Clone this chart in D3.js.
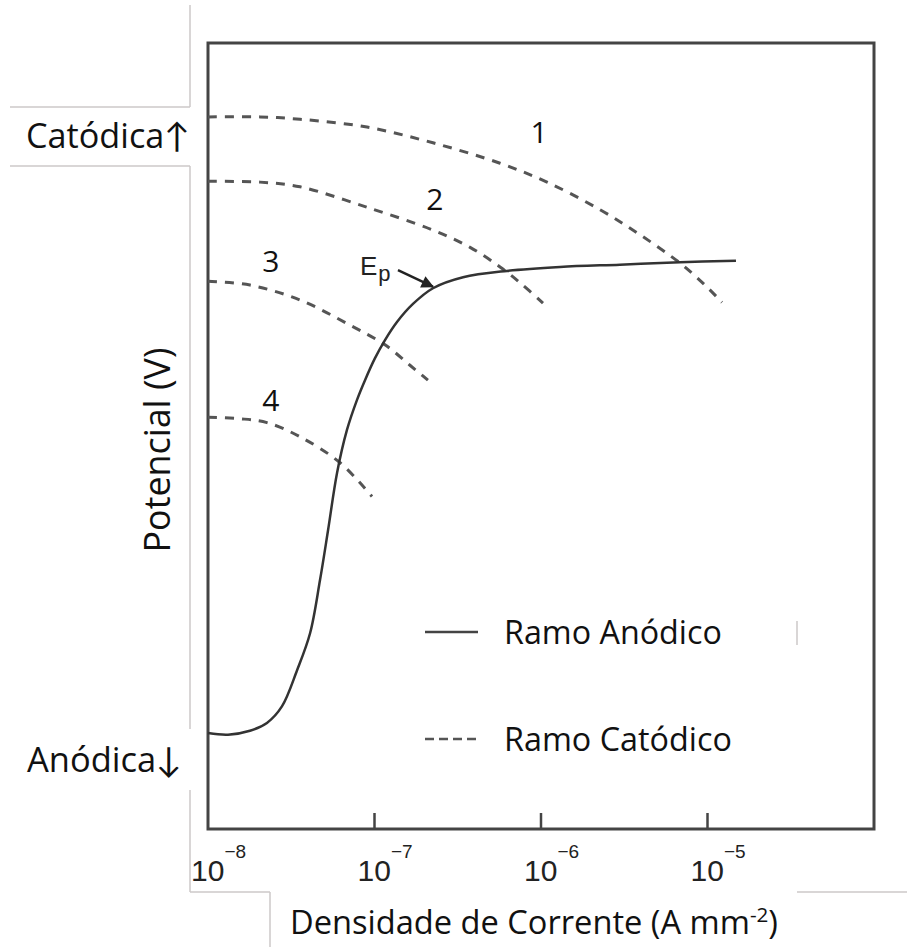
<!DOCTYPE html>
<html>
<head>
<meta charset="utf-8">
<script src="https://cdn.jsdelivr.net/npm/d3@7"></script>
<style>
  html, body { margin: 0; padding: 0; background: #fff; }
  svg { display: block; }
</style>
</head>
<body>
<svg id="chart" width="907" height="947"></svg>
<script>
// ---------- data (x: log10 of current density, y: potential in arbitrary units) ----------
const tickExponents = [-8, -7, -6, -5];

const anodicLogI = [-8.000, -7.880, -7.748, -7.646, -7.556, -7.465, -7.387, -7.327, -7.279, -7.225, -7.165, -7.105, -7.057, -6.997, -6.937, -6.865, -6.769, -6.649, -6.468, -6.204, -5.886, -5.526, -5.165, -4.829];
const anodicE    = [12.2, 12.0, 12.5, 13.5, 15.6, 20.2, 24.9, 31.7, 38.0, 45.3, 50.8, 54.6, 57.1, 59.9, 62.2, 64.5, 66.8, 68.8, 70.2, 71.0, 71.5, 71.8, 72.1, 72.3];

const cath1LogI = [-8.000, -7.688, -7.447, -7.045, -6.649, -6.246, -5.964, -5.646, -5.405, -5.165, -5.015, -4.913];
const cath1E    = [90.6, 90.6, 90.3, 89.3, 87.3, 84.7, 82.3, 78.8, 75.6, 72.0, 69.2, 67.0];

const cath2LogI = [-8.000, -7.688, -7.447, -7.045, -6.649, -6.426, -6.246, -6.126, -5.988];
const cath2E    = [82.4, 82.3, 81.7, 79.1, 76.2, 74.0, 71.5, 69.5, 66.9];

const cath3LogI = [-8.000, -7.748, -7.447, -7.147, -6.937, -6.787, -6.679];
const cath3E    = [69.7, 69.2, 67.3, 64.1, 61.6, 59.0, 57.1];

const cath4LogI = [-8.000, -7.808, -7.646, -7.447, -7.207, -7.015];
const cath4E    = [52.4, 52.2, 51.7, 49.9, 46.6, 42.3];

const cathLabels     = ["1", "2", "3", "4"];
const cathLabelLogI  = [-6.012, -6.637, -7.622, -7.622];
const cathLabelE     = [88.7, 80.2, 72.3, 54.6];

const epLabelLogI = -7.087, epLabelE = 70.5;
const epArrowFrom = [-6.859, 71.1];
const epArrowTo   = [-6.649, 69.0];

const legendLabels = ["Ramo Anódico", "Ramo Catódico"];
const xTitle = "Densidade de Corrente (A mm";
const yTitle = "Potencial (V)";

// ---------- drawing ----------
const svg = d3.select("#chart");
const pL = 208, pR = 874, pT = 43, pB = 829;

const x = d3.scaleLog().domain([1e-8, 1e-4]).range([pL, pR]);
const y = d3.scaleLinear().domain([0, 100]).range([pB, pT]);

const calibri = "'Open Sans', Lato, sans-serif";
const arial = "'Liberation Sans', Arial, sans-serif";

// scale a text element's font size so its rendered width matches target
function fit(sel, target) {
  const w = sel.node().getComputedTextLength();
  const k = target / w;
  sel.attr("font-size", +sel.attr("font-size") * k);
  sel.selectAll("tspan").each(function() {
    const t = d3.select(this);
    if (t.attr("font-size")) t.attr("font-size", +t.attr("font-size") * k);
    if (t.attr("dy")) t.attr("dy", +t.attr("dy") * k);
  });
  return sel;
}

// gray text-box remnants
const boxColor = "#cdc8c8";
const boxLines = [
  [190, 5, 190, 107], [10, 107, 190, 107],
  [10, 166, 190, 166], [190, 166, 190, 729],
  [190, 790, 190, 892], [190, 892, 270, 892], [270, 892, 270, 947],
  [797, 892, 907, 892], [797, 621, 797, 645]
];
svg.append("g").selectAll("line").data(boxLines).join("line")
  .attr("x1", d => d[0]).attr("y1", d => d[1]).attr("x2", d => d[2]).attr("y2", d => d[3])
  .attr("stroke", boxColor).attr("stroke-width", 1.5);

// frame
svg.append("rect").attr("x", pL).attr("y", pT).attr("width", pR - pL).attr("height", pB - pT)
  .attr("fill", "none").attr("stroke", "#444").attr("stroke-width", 3);

// x ticks (inward)
const tickVals = tickExponents.map(e => Math.pow(10, e));
svg.append("g").selectAll("line").data(tickVals.slice(1)).join("line")
  .attr("x1", d => x(d)).attr("x2", d => x(d))
  .attr("y1", pB).attr("y2", pB - 16)
  .attr("stroke", "#444").attr("stroke-width", 2.5);

// tick labels
const tl = svg.append("g").selectAll("text").data(tickExponents).join("text")
  .attr("y", 881)
  .attr("font-family", arial).attr("font-size", 30).attr("fill", "#222");
tl.each(function(e) {
  const t = d3.select(this);
  t.append("tspan").text("10");
  t.append("tspan").attr("dy", -23).attr("dx", 0).attr("font-size", 19).text("\u2212" + (-e));
});
tl.attr("x", d => x(Math.pow(10, d)) - 17);

// lines
const line = d3.line().x(d => x(Math.pow(10, d[0]))).y(d => y(d[1])).curve(d3.curveCatmullRom.alpha(0.5));
const zip = (a, b) => a.map((v, i) => [v, b[i]]);

const cathodic = [zip(cath1LogI, cath1E), zip(cath2LogI, cath2E), zip(cath3LogI, cath3E), zip(cath4LogI, cath4E)];
svg.append("g").selectAll("path").data(cathodic).join("path")
  .attr("d", line).attr("fill", "none").attr("stroke", "#555").attr("stroke-width", 3)
  .attr("stroke-dasharray", "9,8");

svg.append("path").datum(zip(anodicLogI, anodicE)).attr("d", line)
  .attr("fill", "none").attr("stroke", "#333").attr("stroke-width", 2.5);

// curve labels
svg.append("g").selectAll("text").data(cathLabels).join("text")
  .attr("x", (d, i) => x(Math.pow(10, cathLabelLogI[i])))
  .attr("y", (d, i) => y(cathLabelE[i]) + 11)
  .attr("text-anchor", "middle")
  .attr("font-family", calibri).attr("font-size", 30).attr("fill", "#111")
  .text(d => d);

// Ep label + arrow
const ep = svg.append("text").attr("x", x(Math.pow(10, epLabelLogI))).attr("y", y(epLabelE))
  .attr("font-family", arial).attr("font-size", 26).attr("fill", "#222");
ep.append("tspan").text("E");
ep.append("tspan").attr("dy", 6).attr("dx", 1).attr("font-size", 22).text("p");

svg.append("defs").append("marker").attr("id", "ah")
  .attr("viewBox", "0 0 10 10").attr("refX", 9).attr("refY", 5)
  .attr("markerWidth", 6).attr("markerHeight", 5).attr("orient", "auto")
  .attr("markerUnits", "strokeWidth")
  .append("path").attr("d", "M0,0 L10,5 L0,10 Z").attr("fill", "#222");
svg.append("line")
  .attr("x1", x(Math.pow(10, epArrowFrom[0]))).attr("y1", y(epArrowFrom[1]))
  .attr("x2", x(Math.pow(10, epArrowTo[0]))).attr("y2", y(epArrowTo[1]))
  .attr("stroke", "#222").attr("stroke-width", 2.5).attr("marker-end", "url(#ah)");

// legend
const lg = svg.append("g");
const legY = [632, 739];
const legW = [218, 228];
lg.append("line").attr("x1", 425).attr("x2", 478).attr("y1", legY[0]).attr("y2", legY[0])
  .attr("stroke", "#444").attr("stroke-width", 2.5);
lg.append("line").attr("x1", 425).attr("x2", 478).attr("y1", legY[1]).attr("y2", legY[1])
  .attr("stroke", "#555").attr("stroke-width", 2.5).attr("stroke-dasharray", "9,5");
lg.selectAll("text").data(legendLabels).join("text")
  .attr("x", 504).attr("y", (d, i) => legY[i] + 12)
  .attr("font-family", calibri).attr("font-size", 30).attr("fill", "#111")
  .text(d => d)
  .each(function(d, i) { fit(d3.select(this), legW[i]); });

// side labels
fit(svg.append("text").attr("x", 26).attr("y", 148)
  .attr("font-family", calibri).attr("font-size", 30).attr("fill", "#111").text("Catódica\u2191"), 164);
fit(svg.append("text").attr("x", 27).attr("y", 772)
  .attr("font-family", calibri).attr("font-size", 30).attr("fill", "#111").text("Anódica\u2193"), 155);

// y title
fit(svg.append("text").attr("transform", "translate(170,450) rotate(-90)")
  .attr("text-anchor", "middle")
  .attr("font-family", calibri).attr("font-size", 30).attr("fill", "#111").text(yTitle), 205);

// x title
const xt = svg.append("text").attr("x", 290).attr("y", 934)
  .attr("font-family", calibri).attr("font-size", 30).attr("fill", "#111");
xt.append("tspan").text(xTitle);
xt.append("tspan").attr("dy", -11).attr("font-size", 19).text("-2");
xt.append("tspan").attr("dy", 11).text(")");
fit(xt, 488);
</script>
</body>
</html>
